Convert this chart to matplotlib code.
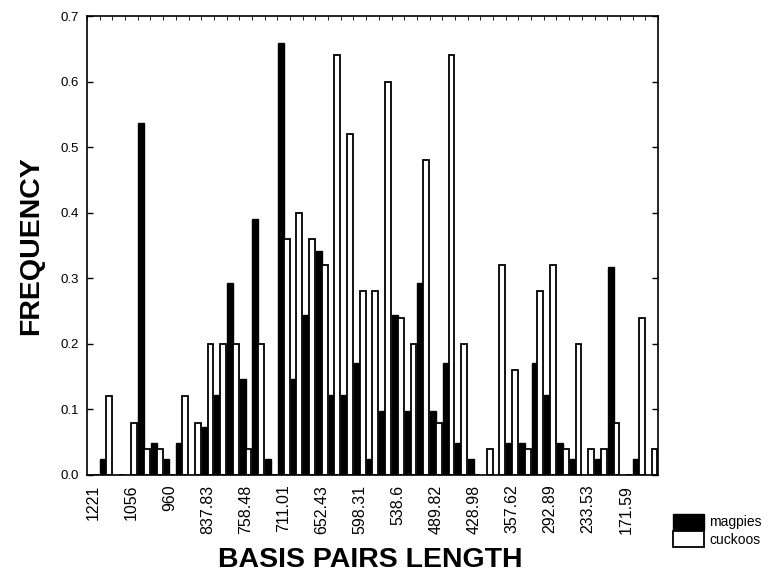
import numpy as np
import matplotlib
matplotlib.use("Agg")
import matplotlib.pyplot as plt

# 45 length classes (bp), labels on every 3rd class
tick_labels = ["1221", "1056", "960", "837.83", "758.48", "711.01", "652.43", "598.31",
               "538.6", "489.82", "428.98", "357.62", "292.89", "233.53", "171.59"]

magpies = [0.0, 0.024, 0.0, 0.0, 0.537, 0.049, 0.024, 0.049, 0.0, 0.073,
           0.122, 0.293, 0.146, 0.390, 0.024, 0.659, 0.146, 0.244, 0.341, 0.122,
           0.122, 0.171, 0.024, 0.098, 0.244, 0.098, 0.293, 0.098, 0.171, 0.049,
           0.024, 0.0, 0.0, 0.049, 0.049, 0.171, 0.122, 0.049, 0.024, 0.0,
           0.024, 0.317, 0.0, 0.024, 0.0]
cuckoos = [0.0, 0.12, 0.0, 0.08, 0.04, 0.04, 0.0, 0.12, 0.08, 0.20,
           0.20, 0.20, 0.04, 0.20, 0.0, 0.36, 0.40, 0.36, 0.32, 0.64,
           0.52, 0.28, 0.28, 0.60, 0.24, 0.20, 0.48, 0.08, 0.64, 0.20,
           0.0, 0.04, 0.32, 0.16, 0.04, 0.28, 0.32, 0.04, 0.20, 0.04,
           0.04, 0.08, 0.0, 0.24, 0.04]

plt.rcParams["font.family"] = ["Liberation Sans", "DejaVu Sans"]

fig = plt.figure(figsize=(7.72, 5.74), dpi=100)
ax = fig.add_axes([0.1127, 0.1725, 0.7396, 0.7995])

x = np.arange(len(magpies))
w = 0.46
ax.bar(x - w / 2, magpies, w, color="black", edgecolor="black", lw=1.0, label="magpies")
ax.bar(x + w / 2, cuckoos, w, color="white", edgecolor="black", lw=1.3, label="cuckoos")

ax.set_xlim(-0.5, len(magpies) - 0.5)
ax.set_ylim(0, 0.7)
ax.set_yticks(np.arange(0, 0.71, 0.1))
ax.set_yticklabels([f"{v:.1f}" for v in np.arange(0, 0.71, 0.1)], fontsize=9.5)
ax.set_xticks(x[::3])
ax.set_xticklabels(tick_labels, rotation=90, fontsize=11.5)
ax.set_xticks(np.arange(-0.5, len(magpies), 1), minor=True)
ax.tick_params(axis="y", direction="in", length=4, pad=6, right=True, width=1)
ax.tick_params(axis="x", which="major", direction="in", length=0, pad=7)
ax.tick_params(axis="x", which="minor", direction="in", length=3, top=True, bottom=False)
for s in ax.spines.values():
    s.set_linewidth(1.2)

fig.text(370 / 772, 7 / 574, "BASIS PAIRS LENGTH", ha="center", va="baseline",
         fontsize=20.5, fontweight="bold")
fig.text(31 / 772, 1 - 246 / 574, "FREQUENCY", ha="center", va="center",
         rotation=90, fontsize=20.5, fontweight="bold")

fig.legend(loc="upper left", bbox_to_anchor=(673 / 772, 1 - 514 / 574), frameon=False,
           fontsize=10, handlelength=2.2, handleheight=1.35, labelspacing=0.12,
           handletextpad=0.4, borderaxespad=0, borderpad=0)

fig.savefig("out.png", dpi=100)
